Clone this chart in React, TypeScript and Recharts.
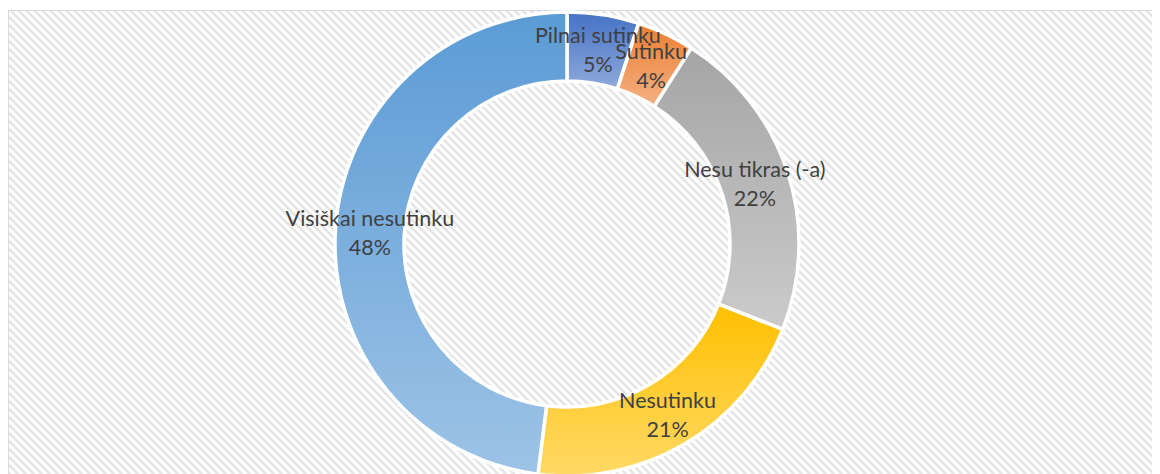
import React from "react";
import { PieChart, Pie, Cell } from "recharts";

const categories = ["Pilnai sutinku", "Sutinku", "Nesu tikras (-a)", "Nesutinku", "Visiškai nesutinku"];
const values = [5, 4, 22, 21, 48];
const gradTop = ["#4472C4", "#ED7D31", "#A5A5A5", "#FFC000", "#5B9BD5"];
const gradBottom = ["#8FAADC", "#F4B183", "#CBCBCB", "#FFD966", "#9DC3E6"];

const data = categories.map((name, i) => ({ name, value: values[i] }));

const W = 1152;
const H = 466;
const CX = 559;
const CY = 236;
const R_OUT = 232;
const R_IN = 163;
const FONT = "Lato, 'Noto Sans', sans-serif";
const RAD = Math.PI / 180;

const renderLabel = (props: any) => {
  const { cx, cy, midAngle, innerRadius, outerRadius, name, value } = props;
  const r = (innerRadius + outerRadius) / 2;
  const x = cx + r * Math.cos(-midAngle * RAD);
  const y = cy + r * Math.sin(-midAngle * RAD);
  return (
    <g>
      <text x={x} y={y - 14} textAnchor="middle" dominantBaseline="central" fill="#404040" fontSize={21.5} fontFamily={FONT}>
        {name}
      </text>
      <text x={x} y={y + 15} textAnchor="middle" dominantBaseline="central" fill="#404040" fontSize={21.5} fontFamily={FONT}>
        {`${value}%`}
      </text>
    </g>
  );
};

export default function App() {
  return (
    <div style={{ position: "relative", width: W, height: H }}>
      <svg width={W} height={H} style={{ position: "absolute", left: 0, top: 0 }}>
        <defs>
          <pattern id="hatch" patternUnits="userSpaceOnUse" width={8} height={8}>
            <rect width={8} height={8} fill="#ffffff" />
            <path d="M-2,-2 L10,10 M-6,2 L2,10 M6,-2 L10,2" stroke="#e4e4e4" strokeWidth={2.4} />
          </pattern>
        </defs>
        <rect x={0} y={2} width={W + 10} height={H + 10} fill="url(#hatch)" />
        <line x1={0.5} y1={2} x2={0.5} y2={H} stroke="#d9d9d9" strokeWidth={1} />
        <line x1={0} y1={2.5} x2={W} y2={2.5} stroke="#d9d9d9" strokeWidth={1} />
      </svg>
      <div style={{ position: "absolute", left: 0, top: 0 }}>
        <PieChart width={W} height={H} margin={{ top: 0, right: 0, bottom: 0, left: 0 }}>
          <defs>
            {gradTop.map((c, i) => (
              <linearGradient key={i} id={`g${i}`} x1="0" y1="0" x2="0" y2="1">
                <stop offset="0%" stopColor={c} />
                <stop offset="100%" stopColor={gradBottom[i]} />
              </linearGradient>
            ))}
          </defs>
          <Pie
            data={data}
            dataKey="value"
            nameKey="name"
            cx={CX}
            cy={CY}
            innerRadius={R_IN}
            outerRadius={R_OUT}
            startAngle={90}
            endAngle={-270}
            stroke="#ffffff"
            strokeWidth={3.5}
            label={renderLabel}
            labelLine={false}
            isAnimationActive={false}
          >
            {data.map((d, i) => (
              <Cell key={d.name} fill={`url(#g${i})`} />
            ))}
          </Pie>
        </PieChart>
      </div>
    </div>
  );
}
